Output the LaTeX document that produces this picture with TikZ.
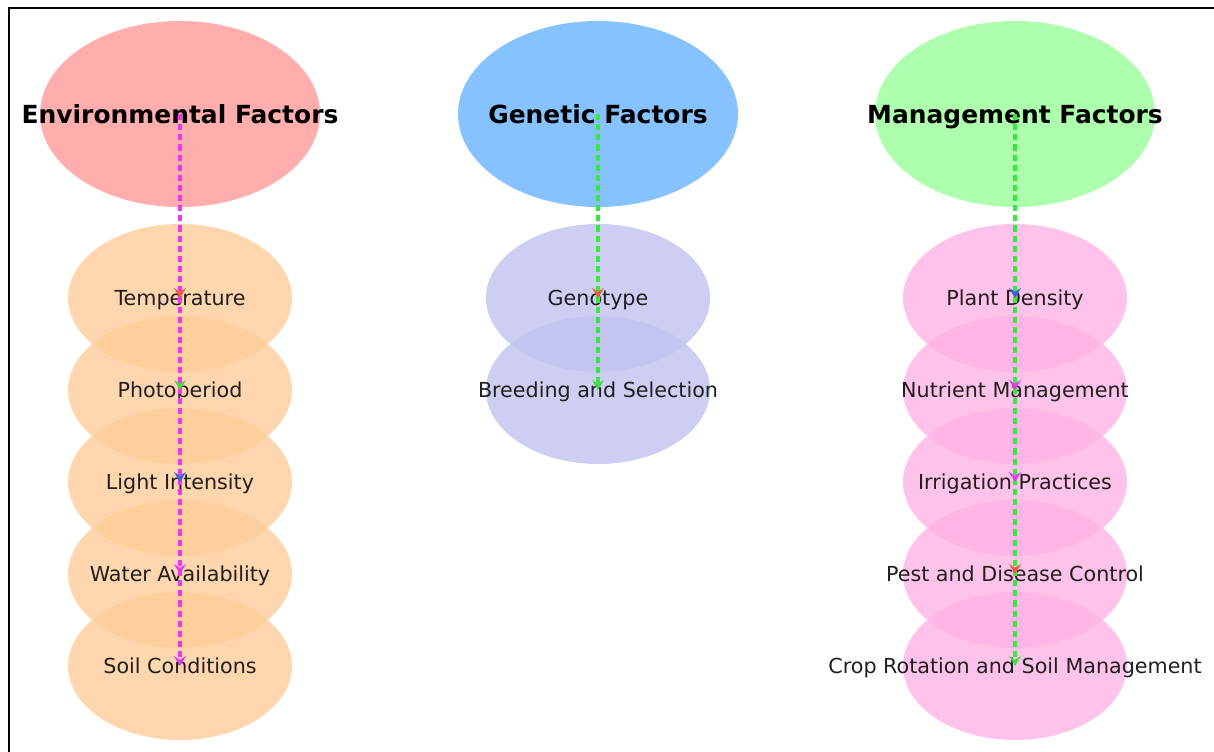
\documentclass[tikz,border=0pt]{standalone}
\usepackage{fontspec}
\setmainfont{DejaVu Sans}
\usetikzlibrary{shapes.geometric,arrows.meta}

\definecolor{envfill}{HTML}{FF9999}
\definecolor{genfill}{HTML}{66B3FF}
\definecolor{manfill}{HTML}{99FF99}
\definecolor{envitem}{HTML}{FFCC99}
\definecolor{genitem}{HTML}{C2C2F0}
\definecolor{manitem}{HTML}{FFB3E6}
\definecolor{linkmag}{RGB}{240,55,240}
\definecolor{linkgreen}{RGB}{55,232,62}
\definecolor{tipred}{RGB}{235,95,60}
\definecolor{tipgreen}{RGB}{70,215,70}
\definecolor{tipblue}{RGB}{60,95,225}
\definecolor{tipmag}{RGB}{225,60,235}

\tikzset{
	factor/.style={
		ellipse, draw=none, fill opacity=0.8, inner sep=0pt,
		minimum width=210pt, minimum height=139.5pt
	},
	item/.style={
		ellipse, draw=none, fill opacity=0.8, inner sep=0pt,
		minimum width=168pt, minimum height=111pt
	},
	factorname/.style={text=black, text height=13.6pt, text depth=0pt,
		font={\fontsize{18.7}{22}\selectfont\bfseries}},
	itemname/.style={text=black!88, text height=11.3pt, text depth=0pt,
		font={\fontsize{15.5}{18}\selectfont}},
	link/.style={line width=2.6pt, dash pattern=on 4.6pt off 3pt},
	tipto/.style={-{Stealth[length=7.5pt,width=9pt,inset=2.8pt,color=#1]}},
}

\begin{document}
\begin{tikzpicture}[x=0.75pt, y=-0.75pt]
\useasboundingbox (0,0) rectangle (1214,752);
\draw[line width=1.1pt] (9,752) -- (9,8) -- (1214,8);

% factor groups
\node[factor, fill=envfill, label={[factorname]center:Environmental Factors}] (env) at (180,114) {};
\node[factor, fill=genfill, label={[factorname]center:Genetic Factors}] (gen) at (598,114) {};
\node[factor, fill=manfill, label={[factorname]center:Management Factors}] (man) at (1015,114) {};

% environmental
\node[item, fill=envitem, label={[itemname]center:Temperature}] (temp) at (180,298) {};
\node[item, fill=envitem, label={[itemname]center:Photoperiod}] (photo) at (180,390) {};
\node[item, fill=envitem, label={[itemname]center:Light Intensity}] (light) at (180,482) {};
\node[item, fill=envitem, label={[itemname]center:Water Availability}] (water) at (180,574) {};
\node[item, fill=envitem, label={[itemname]center:Soil Conditions}] (soil) at (180,666) {};

% genetic
\node[item, fill=genitem, label={[itemname]center:Genotype}] (geno) at (598,298) {};
\node[item, fill=genitem, label={[itemname]center:Breeding and Selection}] (breed) at (598,390) {};

% management
\node[item, fill=manitem, label={[itemname]center:Plant Density}] (dens) at (1015,298) {};
\node[item, fill=manitem, label={[itemname]center:Nutrient Management}] (nutr) at (1015,390) {};
\node[item, fill=manitem, label={[itemname]center:Irrigation Practices}] (irri) at (1015,482) {};
\node[item, fill=manitem, label={[itemname]center:Pest and Disease Control}] (pest) at (1015,574) {};
\node[item, fill=manitem, label={[itemname]center:Crop Rotation and Soil Management}] (crop) at (1015,666) {};

% links, longest first so the short ones keep their heads on top
\draw[link, linkmag, tipto=tipmag] (env.center) -- (soil.center);
\draw[link, linkmag, tipto=tipmag] (env.center) -- (water.center);
\draw[link, linkmag, tipto=tipblue] (env.center) -- (light.center);
\draw[link, linkmag, tipto=tipgreen] (env.center) -- (photo.center);
\draw[link, linkmag, tipto=tipred] (env.center) -- (temp.center);

\draw[link, linkgreen, tipto=tipgreen] (gen.center) -- (breed.center);
\draw[link, linkgreen, tipto=tipred] (gen.center) -- (geno.center);

\draw[link, linkgreen, tipto=tipgreen] (man.center) -- (crop.center);
\draw[link, linkgreen, tipto=tipred] (man.center) -- (pest.center);
\draw[link, linkgreen, tipto=tipmag] (man.center) -- (irri.center);
\draw[link, linkgreen, tipto=tipmag] (man.center) -- (nutr.center);
\draw[link, linkgreen, tipto=tipblue] (man.center) -- (dens.center);
\end{tikzpicture}
\end{document}
